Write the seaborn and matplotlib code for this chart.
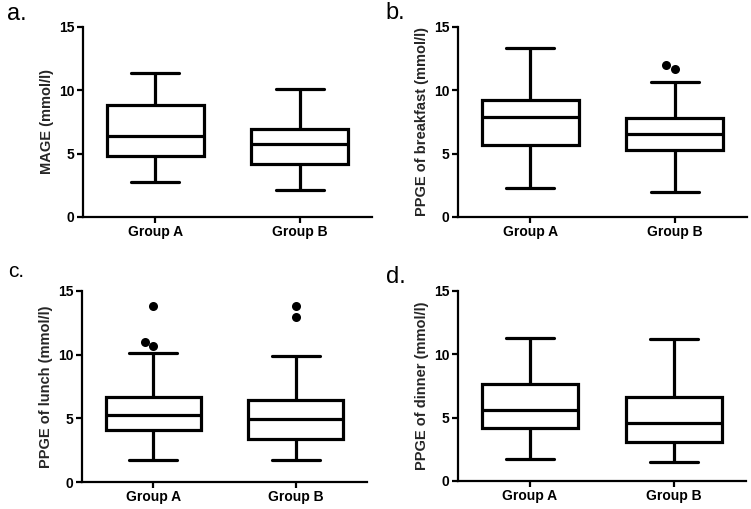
import numpy as np
import pandas as pd
import matplotlib
matplotlib.use("Agg")
import matplotlib.pyplot as plt
import seaborn as sns

# ---- data ----
groups = ["Group A", "Group B"]
panel_letters = ["a.", "b.", "c.", "d."]
y_labels = ["MAGE (mmol/l)", "PPGE of breakfast (mmol/l)",
            "PPGE of lunch (mmol/l)", "PPGE of dinner (mmol/l)"]

# five-number summaries: [lower whisker, Q1, median, Q3, upper whisker]
mage_a = [2.8, 4.84, 6.37, 8.84, 11.37]
mage_b = [2.13, 4.21, 5.76, 6.95, 10.08]
breakfast_a = [2.26, 5.68, 7.87, 9.24, 13.37]
breakfast_b = [1.97, 5.29, 6.53, 7.82, 10.68]
lunch_a = [1.70, 4.06, 5.29, 6.68, 10.16]
lunch_b = [1.70, 3.41, 4.98, 6.42, 9.87]
dinner_a = [1.74, 4.21, 5.61, 7.63, 11.26]
dinner_b = [1.47, 3.05, 4.55, 6.61, 11.18]

# outliers
breakfast_b_out = [11.66, 11.97]
lunch_a_out = [10.66, 11.0, 13.8]
lunch_b_out = [12.96, 13.8]

panels = [
    (mage_a, mage_b, [], []),
    (breakfast_a, breakfast_b, [], breakfast_b_out),
    (lunch_a, lunch_b, lunch_a_out, lunch_b_out),
    (dinner_a, dinner_b, [], []),
]

y_ticks = [0, 5, 10, 15]

# ---- style ----
sns.set_theme(style="ticks")
plt.rcParams["font.family"] = ["Liberation Sans", "DejaVu Sans"]

W, H = 751, 509
fig = plt.figure(figsize=(W / 100, H / 100), dpi=100)
fig.patch.set_facecolor("white")

# axes rectangles in pixels: left, right, top(15), bottom(0)
rects_px = [
    (83, 372, 27, 217),
    (458, 747, 27, 217),
    (82, 367, 291, 482),
    (458, 746, 291, 481),
]
letter_pos = [(7, 20, 17), (385, 19, 17), (8, 277, 15), (386, 283, 17)]

for i, (vals_a, vals_b, out_a, out_b) in enumerate(panels):
    l, r, t, b = rects_px[i]
    ax = fig.add_axes([l / W, 1 - b / H, (r - l) / W, (b - t) / H])
    df = pd.DataFrame({
        "group": [groups[0]] * len(vals_a) + [groups[1]] * len(vals_b),
        "value": list(vals_a) + list(vals_b),
    })
    sns.boxplot(data=df, x="group", y="value", order=groups, ax=ax,
                whis=(0, 100), width=0.67, color="white", linecolor="black",
                linewidth=2.3, showfliers=False, saturation=1)
    if len(out_a) + len(out_b) > 0:
        odf = pd.DataFrame({
            "group": [groups[0]] * len(out_a) + [groups[1]] * len(out_b),
            "value": list(out_a) + list(out_b),
        })
        sns.swarmplot(data=odf, x="group", y="value", order=groups, ax=ax,
                      color="black", size=6.5, linewidth=0)
    ax.set_ylim(0, 15)
    ax.set_xlim(-0.5, 1.5)
    ax.set_yticks(y_ticks)
    ax.set_xlabel("")
    ax.set_ylabel(y_labels[i], fontsize=10.5, fontweight="bold", labelpad=4)
    sns.despine(ax=ax)
    for s in ["left", "bottom"]:
        ax.spines[s].set_linewidth(1.6)
        ax.spines[s].set_color("black")
    ax.tick_params(axis="both", length=4, width=1.6, color="black",
                   labelsize=10, pad=2)
    for lab in ax.get_xticklabels() + ax.get_yticklabels():
        lab.set_fontweight("bold")
        lab.set_color("black")
    ax.set_facecolor("white")

    lx, ly, fs = letter_pos[i]
    fig.text(lx / W, 1 - ly / H, panel_letters[i], fontsize=fs,
             va="baseline", ha="left", color="black")

fig.savefig("out.png", dpi=100, facecolor="white")
